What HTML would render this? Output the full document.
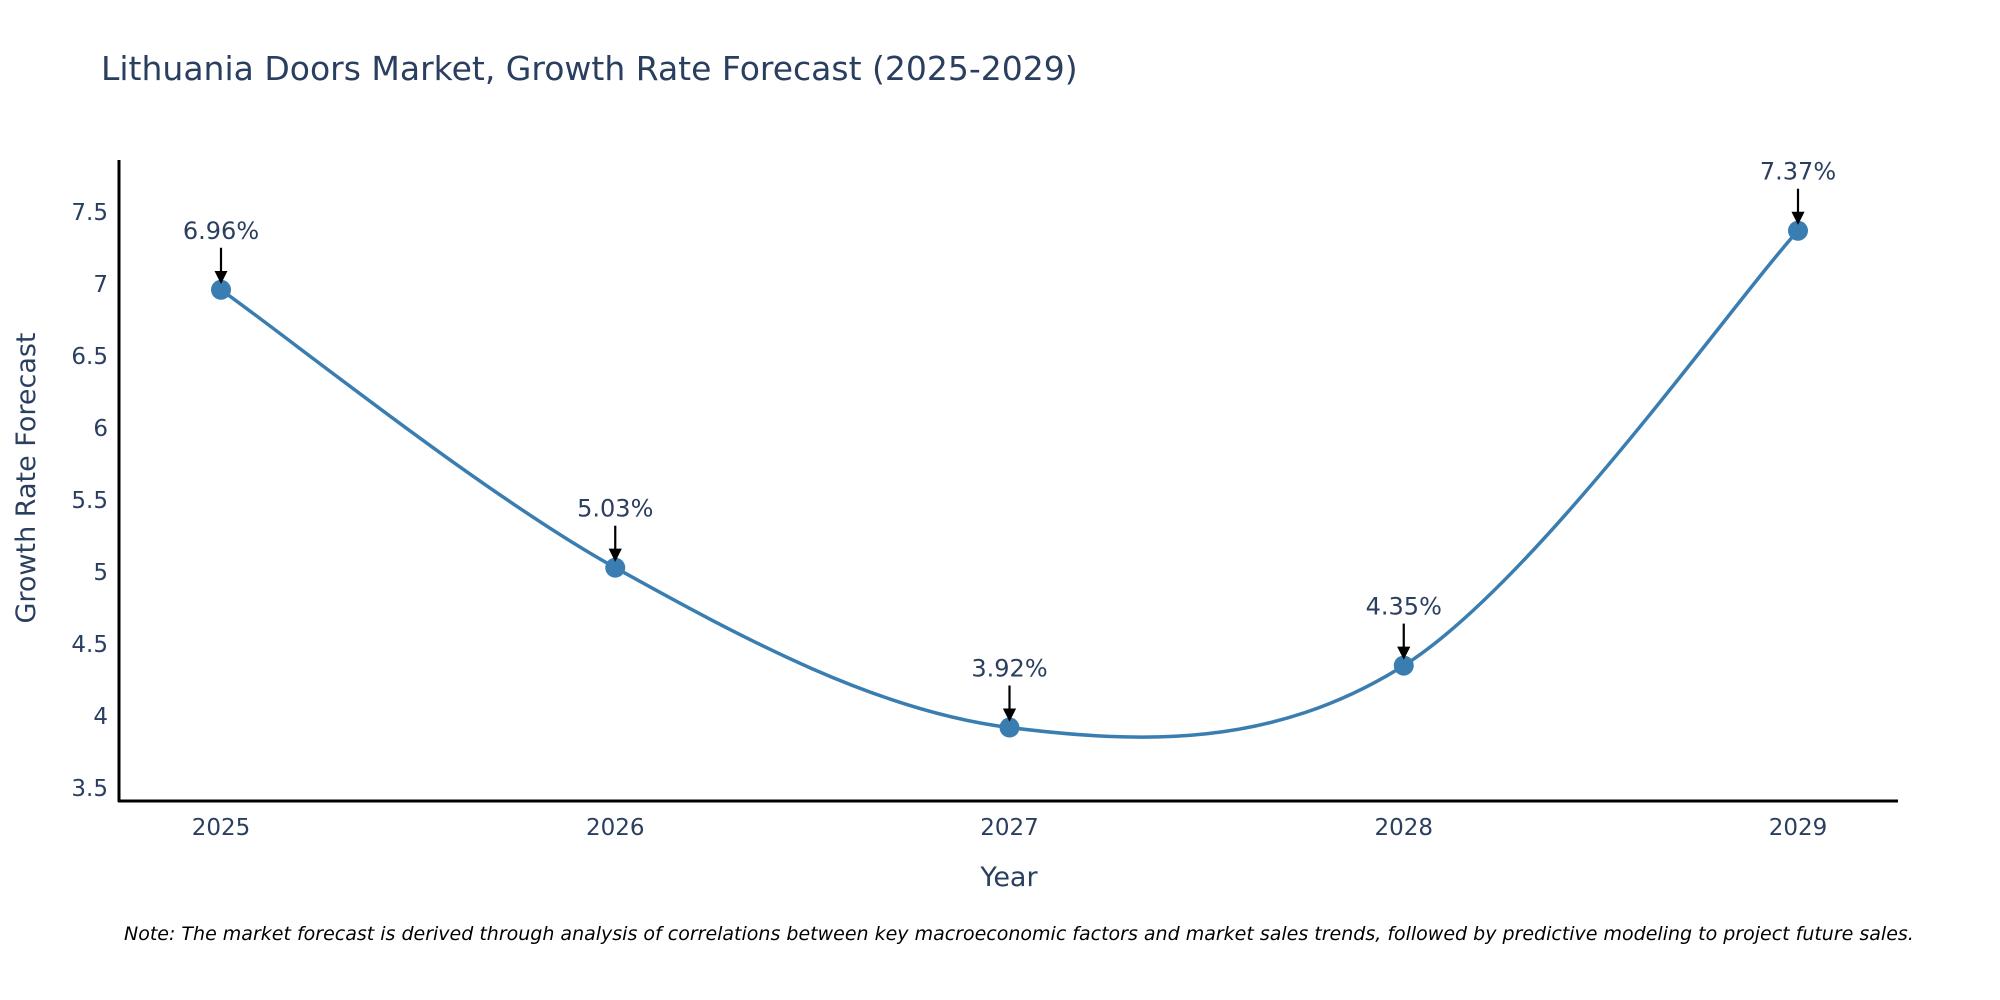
<!DOCTYPE html>
<html><head><meta charset="utf-8"><style>
body{margin:0;background:#fff}
svg{display:block;font-family:"DejaVu Sans","Liberation Sans",sans-serif}
</style></head><body>
<svg id="chart" width="2000" height="1000">
<text x="101" y="80" font-size="33" fill="#2a3f5f">Lithuania Doors Market, Growth Rate Forecast (2025-2029)</text>
<g id="yticks"></g>
<g id="xticks"></g>
<path id="line" fill="none" stroke="#3a7db1" stroke-width="3.5"/>
<g id="pts"></g>
<g id="ann"></g>
<line x1="119" y1="160" x2="119" y2="802" stroke="#000" stroke-width="3"/>
<line x1="118" y1="801" x2="1898" y2="801" stroke="#000" stroke-width="3"/>
<text transform="translate(35,478) rotate(-90)" text-anchor="middle" font-size="27" fill="#2a3f5f">Growth Rate Forecast</text>
<text x="1009" y="886" text-anchor="middle" font-size="27" fill="#2a3f5f">Year</text>
<text x="124" y="940" font-size="19" font-style="italic" fill="#000">Note: The market forecast is derived through analysis of correlations between key macroeconomic factors and market sales trends, followed by predictive modeling to project future sales.</text>
<defs><marker id="ah" markerWidth="6" markerHeight="6" refX="5" refY="3" orient="auto" markerUnits="strokeWidth"><path d="M0,0 L6,3 L0,6 Z" fill="#000"/></marker></defs>
</svg>
<script>
const years=["2025","2026","2027","2028","2029"];
const values=[6.96,5.03,3.92,4.35,7.37];
const yTicks=[3.5,4,4.5,5,5.5,6,6.5,7,7.5];
const labels=["6.96%","5.03%","3.92%","4.35%","7.37%"];
const NS="http://www.w3.org/2000/svg";
function xs(i){return 221+i*394.25;}
function ys(v){return 788-(v-3.5)*144;}
function mk(tag,attrs,parent,txt){const e=document.createElementNS(NS,tag);for(const k in attrs)e.setAttribute(k,attrs[k]);if(txt!==undefined)e.textContent=txt;parent.appendChild(e);return e;}
const yt=document.getElementById('yticks');
yTicks.forEach(v=>{const t=mk('text',{x:108,y:ys(v)+8,'text-anchor':'end','font-size':23,fill:'#2a3f5f'},yt,String(v));

});
const xt=document.getElementById('xticks');
years.forEach((y,i)=>{const t=mk('text',{x:xs(i),y:835,'text-anchor':'middle','font-size':23,fill:'#2a3f5f'},xt,y);

});
const P=values.map((v,i)=>[xs(i),ys(v)]);
let d=`M${P[0][0]},${P[0][1]}`;
for(let i=0;i<P.length-1;i++){const p0=P[i-1]||P[i],p1=P[i],p2=P[i+1],p3=P[i+2]||P[i+1];const s=6;
d+=` C${p1[0]+(p2[0]-p0[0])/s},${p1[1]+(p2[1]-p0[1])/s} ${p2[0]-(p3[0]-p1[0])/s},${p2[1]-(p3[1]-p1[1])/s} ${p2[0]},${p2[1]}`;}
document.getElementById('line').setAttribute('d',d);
const pts=document.getElementById('pts'),ann=document.getElementById('ann');
P.forEach((p,i)=>{const c=mk('circle',{cx:p[0],cy:p[1],r:10,fill:'#3a7db1'},pts);


const l=mk('line',{x1:p[0],y1:p[1]-42,x2:p[0],y2:p[1]-8,stroke:'#000','stroke-width':2.2,'marker-end':'url(#ah)'},ann);


const t=mk('text',{x:p[0],y:p[1]-51,'text-anchor':'middle','font-size':24,fill:'#2a3f5f'},ann,labels[i]);

});
</script>
</body></html>
